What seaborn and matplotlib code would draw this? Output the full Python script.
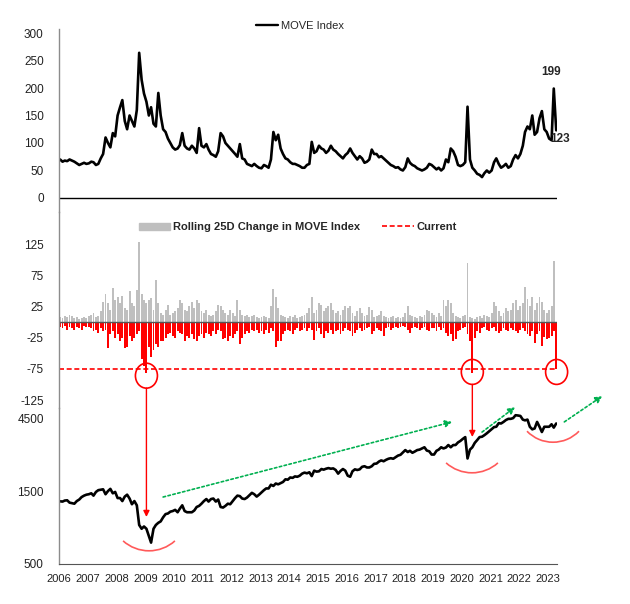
import pandas as pd
import numpy as np
import matplotlib
matplotlib.use("Agg")
import matplotlib.pyplot as plt
import matplotlib.dates as mdates
from matplotlib.patches import Ellipse, Arc, Patch, ConnectionPatch
from matplotlib.lines import Line2D
import seaborn as sns

# monthly readings, Jan 2006 .. Apr 2023
dates = pd.date_range("2006-01-01", "2023-04-01", freq="MS") + pd.Timedelta(days=14)

move = [
    70, 66, 68, 67, 70, 68, 66, 63, 60, 62, 64, 62,          # 2006
    63, 66, 65, 60, 62, 72, 80, 110, 100, 92, 118, 112,      # 2007
    150, 165, 178, 140, 125, 150, 140, 130, 160, 264, 215, 190,  # 2008
    175, 150, 165, 135, 130, 191, 150, 125, 120, 108, 100, 92,   # 2009
    88, 90, 96, 118, 95, 90, 88, 95, 90, 82, 127, 95,        # 2010
    92, 98, 88, 80, 78, 75, 85, 118, 112, 100, 95, 90,       # 2011
    85, 80, 75, 98, 72, 70, 62, 60, 58, 62, 58, 55,          # 2012
    54, 60, 58, 55, 70, 120, 105, 115, 90, 80, 72, 70,       # 2013
    65, 62, 62, 60, 58, 55, 55, 60, 62, 102, 82, 85,         # 2014
    95, 90, 88, 82, 86, 95, 88, 85, 80, 76, 72, 78,          # 2015
    82, 90, 82, 76, 70, 76, 72, 64, 66, 70, 88, 80,          # 2016
    80, 74, 76, 72, 68, 64, 60, 58, 55, 56, 52, 50,          # 2017
    56, 72, 64, 60, 58, 54, 52, 50, 52, 55, 62, 60,          # 2018
    56, 52, 55, 50, 54, 70, 65, 90, 85, 75, 60, 58,          # 2019
    60, 65, 166, 70, 55, 50, 44, 42, 38, 45, 50, 46,         # 2020
    50, 65, 72, 62, 55, 58, 62, 55, 58, 70, 78, 72,          # 2021
    80, 95, 120, 130, 125, 150, 115, 120, 145, 158, 125, 120,    # 2022
    108, 105, 199, 123,                                      # 2023
]

chg_up = [
    8, 6, 10, 8, 12, 10, 6, 8, 5, 6, 8, 6,
    10, 12, 15, 8, 10, 18, 32, 45, 30, 20, 55, 35,
    40, 30, 42, 22, 20, 50, 30, 25, 52, 128, 45, 35,
    30, 35, 38, 20, 68, 30, 15, 12, 20, 28, 12, 15,
    18, 22, 35, 30, 20, 18, 25, 32, 22, 35, 30, 18,
    15, 20, 12, 10, 12, 18, 28, 25, 20, 15, 12, 20,
    15, 10, 35, 20, 12, 10, 12, 8, 10, 12, 8, 6,
    8, 10, 8, 6, 25, 53, 40, 22, 12, 10, 8, 6,
    10, 8, 12, 6, 8, 10, 12, 15, 22, 40, 15, 20,
    30, 28, 18, 22, 25, 30, 20, 15, 18, 12, 20, 26,
    22, 26, 15, 10, 18, 22, 15, 10, 12, 24, 20, 8,
    10, 12, 18, 10, 8, 6, 8, 10, 6, 8, 6, 8,
    15, 26, 12, 10, 8, 6, 10, 8, 12, 20, 18, 15,
    12, 8, 15, 10, 35, 25, 35, 30, 15, 10, 8, 6,
    10, 12, 94, 8, 6, 5, 8, 10, 6, 12, 10, 8,
    15, 32, 25, 18, 10, 15, 22, 18, 20, 30, 35, 20,
    25, 30, 56, 37, 25, 40, 20, 30, 40, 32, 20, 15,
    20, 25, 97, 0,
]

chg_down = [
    -8, -10, -6, -12, -8, -10, -13, -8, -10, -12, -6, -8,
    -8, -10, -15, -12, -18, -10, -15, -12, -42, -20, -15, -25,
    -20, -30, -25, -42, -40, -22, -30, -25, -20, -15, -60, -70,
    -82, -40, -56, -45, -35, -40, -30, -30, -25, -20, -18, -22,
    -25, -15, -18, -20, -30, -22, -25, -20, -28, -30, -22, -20,
    -25, -18, -20, -22, -15, -20, -12, -15, -28, -25, -30, -22,
    -25, -20, -15, -35, -25, -20, -15, -18, -12, -15, -12, -18,
    -15, -20, -12, -18, -10, -15, -40, -30, -30, -20, -15, -12,
    -15, -20, -12, -10, -15, -12, -10, -15, -10, -12, -29, -15,
    -10, -20, -25, -15, -18, -12, -20, -15, -12, -20, -15, -10,
    -12, -15, -22, -18, -12, -10, -15, -12, -10, -8, -20, -15,
    -10, -12, -15, -22, -10, -8, -12, -10, -8, -10, -8, -6,
    -8, -12, -18, -10, -8, -10, -12, -10, -8, -12, -15, -10,
    -10, -15, -8, -12, -10, -18, -22, -20, -30, -28, -15, -12,
    -10, -8, -20, -30, -82, -25, -15, -18, -10, -8, -12, -15,
    -10, -8, -15, -18, -15, -10, -12, -15, -10, -12, -15, -18,
    -12, -10, -15, -20, -22, -15, -34, -20, -15, -39, -24, -27,
    -25, -22, -15, -76,
]

spx = [
    1285, 1280, 1300, 1305, 1260, 1250, 1240, 1290, 1320, 1370, 1400, 1420,
    1430, 1450, 1400, 1480, 1520, 1530, 1540, 1430, 1500, 1550, 1450, 1480,
    1350, 1350, 1290, 1380, 1420, 1340, 1230, 1290, 1210, 900, 850, 880,
    850, 760, 690, 850, 900, 930, 950, 1010, 1060, 1070, 1100, 1110,
    1130, 1090, 1150, 1210, 1110, 1090, 1090, 1090, 1120, 1180, 1200, 1240,
    1290, 1330, 1280, 1330, 1340, 1280, 1320, 1180, 1170, 1200, 1240, 1230,
    1290, 1350, 1400, 1390, 1340, 1330, 1360, 1410, 1460, 1430, 1380, 1420,
    1470, 1520, 1560, 1560, 1650, 1620, 1680, 1660, 1690, 1720, 1790, 1780,
    1840, 1830, 1870, 1860, 1890, 1950, 1980, 1960, 1990, 1880, 2040, 2010,
    2020, 2090, 2070, 2100, 2120, 2100, 2110, 2060, 1950, 2030, 2090, 2040,
    1890, 1860, 2020, 2080, 2060, 2080, 2160, 2180, 2140, 2140, 2180, 2260,
    2270, 2340, 2380, 2350, 2400, 2440, 2460, 2440, 2500, 2560, 2590, 2680,
    2780, 2700, 2750, 2670, 2720, 2780, 2800, 2850, 2900, 2760, 2730, 2600,
    2600, 2750, 2800, 2900, 2850, 2890, 3000, 2900, 3000, 3000, 3120, 3190,
    3290, 3380, 2450, 2800, 2900, 3100, 3230, 3380, 3400, 3480, 3580, 3690,
    3800, 3930, 3950, 4170, 4150, 4250, 4370, 4450, 4450, 4500, 4700, 4680,
    4650, 4400, 4350, 4400, 3950, 3800, 3850, 4250, 3950, 3650, 3950, 3950,
    3950, 4100, 3900, 4150,
]

move_ticks = [0, 50, 100, 150, 200, 250, 300]
chg_ticks = [-125, -75, -25, 25, 75, 125]
spx_ticks = [500, 1500, 4500]
years = list(range(2006, 2024))
current_level = -75

df = pd.DataFrame({"date": dates, "move": move, "up": chg_up,
                   "down": chg_down, "spx": spx})

sns.set_style("white")
plt.rcParams["font.family"] = ["Liberation Sans", "DejaVu Sans"]
plt.rcParams["font.size"] = 8.5
plt.rcParams["axes.unicode_minus"] = False

W, H = 630, 604
fig = plt.figure(figsize=(W / 100, H / 100), dpi=100)


def box(top, bottom, left=59, right=557):
    return [left / W, 1 - bottom / H, (right - left) / W, (bottom - top) / H]


ax1 = fig.add_axes(box(29, 212))
ax2 = fig.add_axes(box(212, 408))
ax3 = fig.add_axes(box(408, 564))

xmin, xmax = pd.Timestamp("2006-01-01"), pd.Timestamp("2023-04-25")
for ax in (ax1, ax2, ax3):
    ax.set_xlim(xmin, xmax)
    for s in ("top", "right", "bottom"):
        ax.spines[s].set_visible(False)
    ax.spines["left"].set_color("#8c8c8c")
    ax.spines["left"].set_linewidth(1)
    ax.tick_params(length=0, pad=11, labelsize=8.5, colors="#222222")
    ax.patch.set_alpha(0)

# top: MOVE index
sns.lineplot(data=df, x="date", y="move", ax=ax1, color="black", lw=1.9,
             legend=False)
ax1.axhline(0, color="black", lw=1)
ax1.set_ylim(-25.5, 307.3)
ax1.set_yticks(move_ticks)
ax1.set_xticks([])
ax1.set_xlabel("")
ax1.set_ylabel("")
ax1.annotate(f"{move[-2]}", xy=(dates[-2], move[-2]), xytext=(-2, 12),
             textcoords="offset points", ha="center", va="center",
             fontweight="bold", fontsize=8.5)
ax1.annotate(f"{move[-1]}", xy=(dates[-1], move[-1]), xytext=(3, -6),
             textcoords="offset points", ha="center", va="center",
             fontweight="bold", fontsize=8.5)
ax1.legend(handles=[Line2D([], [], color="black", lw=1.7)], labels=["MOVE Index"],
           loc="center", bbox_to_anchor=(300 / W, 1 - 26 / H),
           bbox_transform=fig.transFigure, frameon=False, fontsize=8,
           handlelength=2.0, handletextpad=0.3)

# middle: rolling 25D change
ax2.bar(df["date"], df["up"], width=24, color="#bfbfbf", lw=0)
ax2.bar(df["date"], df["down"], width=24, color="#ff0000", lw=0)
ax2.axhline(0, color="#555555", lw=1)
ax2.axhline(current_level, color="#ff0000", lw=1.2, ls=(0, (3, 1.6)))
ax2.set_ylim(-137.8, 176.3)
ax2.set_yticks(chg_ticks)
ax2.set_xticks([])
ax2.legend(handles=[Patch(color="#bfbfbf"),
                    Line2D([], [], color="#ff0000", lw=1.2, ls=(0, (3, 1.6)))],
           labels=["Rolling 25D Change in MOVE Index", "Current"],
           loc="center", bbox_to_anchor=(298 / W, 1 - 227 / H),
           bbox_transform=fig.transFigure, frameon=False, ncol=2,
           prop={"weight": "bold", "size": 8}, handlelength=2.8,
           handleheight=0.6, handletextpad=0.3, columnspacing=2.0)

# bottom: S&P 500 (log)
sns.lineplot(data=df, x="date", y="spx", ax=ax3, color="black", lw=1.9)
ax3.set_yscale("log")
ax3.set_ylim(500, 5240)
ax3.set_yticks(spx_ticks)
ax3.set_yticklabels([str(t) for t in spx_ticks])
ax3.yaxis.set_minor_locator(matplotlib.ticker.NullLocator())
ax3.spines["bottom"].set_visible(True)
ax3.spines["bottom"].set_color("#555555")
ax3.set_xticks([pd.Timestamp(f"{y}-01-01") for y in years])
ax3.set_xticklabels([str(y) for y in years], fontsize=8)
ax3.tick_params(axis="x", pad=7)
ax3.set_xlabel("")
ax3.set_ylabel("")

# circles + red arrows linking the big drops to the index lows
days_w = 22 / 28.75 * 365.25
for d, cy, spx_tip in [("2009-01-15", -86, 1015), ("2020-05-15", -80, 3385),
                       ("2023-04-20", -80, None)]:
    xd = mdates.date2num(pd.Timestamp(d))
    ax2.add_patch(Ellipse((xd, cy), width=days_w, height=40, fill=False,
                          ec="#ff0000", lw=1.2, clip_on=False))
    if spx_tip is not None:
        con = ConnectionPatch(xyA=(xd, cy - 20), coordsA=ax2.transData,
                              xyB=(xd, spx_tip), coordsB=ax3.transData,
                              arrowstyle="-|>", color="#ff0000", lw=1,
                              mutation_scale=9)
        fig.add_artist(con)

# green dotted trend arrows
for (d0, v0), (d1, v1) in [(("2009-08-15", 1371), ("2019-09-01", 4250)),
                           (("2020-09-15", 3645), ("2021-11-10", 5310)),
                           (("2023-07-27", 4250), ("2024-11-20", 6270))]:
    ax3.annotate("", xy=(pd.Timestamp(d1), v1), xytext=(pd.Timestamp(d0), v0),
                 annotation_clip=False,
                 arrowprops=dict(arrowstyle="-|>", color="#00b050", lw=1.2,
                                 ls=(0, (1.5, 1.5)), mutation_scale=10,
                                 shrinkA=0, shrinkB=0))

# red smile arcs under the lows (pixel positions)
for cx, cy, r, half in [(149, 512, 38.8, 41.9), (472, 434, 38.8, 41.9),
                        (553, 406, 36.2, 45.9)]:
    fig.add_artist(Arc((cx / 100, (H - cy) / 100), 2 * r / 100, 2 * r / 100,
                       theta1=-90 - half, theta2=-90 + half,
                       transform=fig.dpi_scale_trans, color="#ff5a5a", lw=1.2))

fig.savefig("out.png", dpi=100)
